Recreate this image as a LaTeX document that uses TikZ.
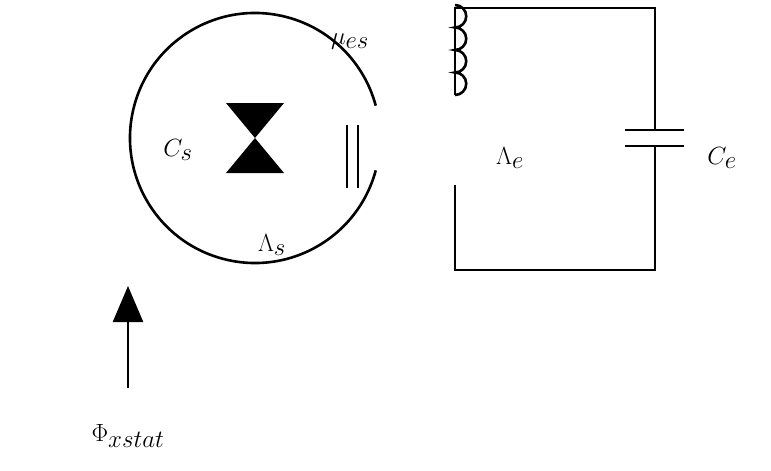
\documentclass[tikz,border=0pt]{standalone}
\usetikzlibrary{arrows.meta}
\tikzset{wire/.style={line width=2.6pt},lbl/.style={inner sep=0pt,font=\fontsize{36}{43}\selectfont}}
\begin{document}
\begin{tikzpicture}[x=1pt,y=-1pt]
\useasboundingbox (0,0) rectangle (771,471);
% loop with junction
\draw[wire] (255,138) ++(15:125) arc[start angle=15,end angle=345,radius=125];
\fill (226,103) -- (284,103) -- (255,138) -- cycle;
\fill (226,173) -- (284,173) -- (255,138) -- cycle;
\node[lbl] (cs) at (178,150) {$C_s$};
\node[lbl] (ls) at (272,245) {$\Lambda_s$};
\node[lbl] (mu) at (350,42) {$\mu_{es}$};
% coupling
\draw[line width=2.4pt] (347,125) -- (347,188) (358,125) -- (358,188);
% circuit
\draw[wire] (455,95) -- (455,8) -- (655,8) -- (655,130);
\draw[wire] (655,146) -- (655,270) -- (455,270) -- (455,185);
\draw[wire] (625,130) -- (684,130) (625,146) -- (684,146);
\draw[wire] (455,95) arc[start angle=90,end angle=-90,radius=11.25]
  arc[start angle=90,end angle=-90,radius=11.25]
  arc[start angle=90,end angle=-90,radius=11.25]
  arc[start angle=90,end angle=-90,radius=11.25];
\node[lbl] (le) at (510,158) {$\Lambda_e$};
\node[lbl] (ce) at (722,158) {$C_e$};
% flux arrow
\coordinate (a1) at (128,388);
\coordinate (a2) at (128,286);
\draw[wire,-{Triangle[length=36pt,width=30pt]}] (a1) -- (a2);
\node[lbl] (phi) at (128,436) {$\Phi_{xstat}$};
\end{tikzpicture}
\end{document}
